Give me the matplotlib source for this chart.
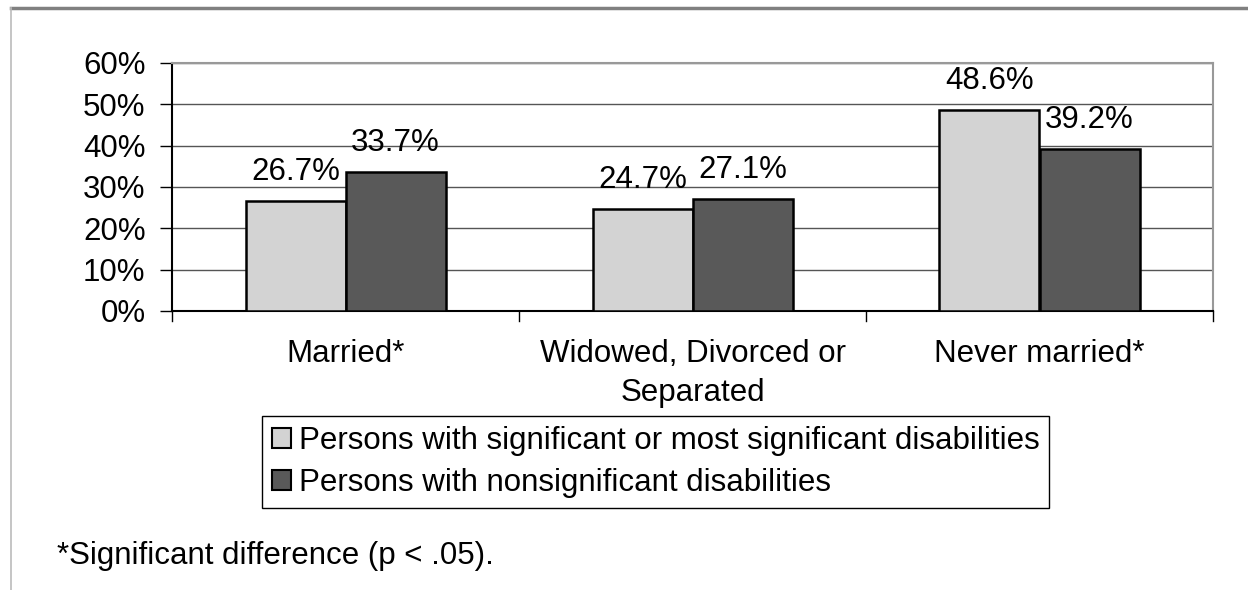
import matplotlib
matplotlib.use("Agg")
import matplotlib.pyplot as plt
from matplotlib.patches import Patch
from matplotlib.lines import Line2D
import numpy as np

categories = ["Married*", "Widowed, Divorced or\nSeparated", "Never married*"]
series_names = ["Persons with significant or most significant disabilities",
                "Persons with nonsignificant disabilities"]
sig_values = [26.7, 24.7, 48.6]
nonsig_values = [33.7, 27.1, 39.2]
yticks = [0, 10, 20, 30, 40, 50, 60]
ytick_labels = ["0%", "10%", "20%", "30%", "40%", "50%", "60%"]
footnote = "*Significant difference (p < .05)."

plt.rcParams['font.family'] = ['Liberation Sans', 'DejaVu Sans']
FS = 22.5

W, H = 1248, 590
fig = plt.figure(figsize=(W/100, H/100), dpi=100)
ax = fig.add_axes([172/W, 1-311/H, (1213-172)/W, (311-63)/H])

x = np.arange(len(categories))
bw = 100/347
light = "#d3d3d3"
dark = "#595959"
b1 = ax.bar(x - bw/2, sig_values, bw, color=light, edgecolor="black", linewidth=1.8, zorder=3)
b2 = ax.bar(x + bw/2, nonsig_values, bw, color=dark, edgecolor="black", linewidth=1.8, zorder=3)

for bars, vals in ((b1, sig_values), (b2, nonsig_values)):
    for r, v in zip(bars, vals):
        ax.annotate(f"{v:.1f}%", (r.get_x() + r.get_width()/2, v), xytext=(0, 15),
                    textcoords="offset points", ha="center", va="baseline", fontsize=FS)

ax.set_xlim(-0.5, len(categories) - 0.5)
ax.set_ylim(0, 60)
ax.set_yticks(yticks)
ax.set_yticklabels(ytick_labels, fontsize=FS)
ax.yaxis.grid(True, color="#555555", linewidth=1.0, zorder=0)
ax.tick_params(axis="y", length=9, width=1, pad=10)

ax.set_xticks(x)
ax.set_xticklabels(categories, fontsize=FS, linespacing=1.4)
ax.tick_params(axis="x", length=0, pad=20)
# boundary tick marks on the category axis
for b in np.arange(-0.5, len(categories), 1.0):
    ax.plot([b, b], [0, -0.04], transform=ax.get_xaxis_transform(), color="black",
            linewidth=1, clip_on=False)

for s in ("top", "right"):
    ax.spines[s].set_color("#999999")
    ax.spines[s].set_linewidth(1.5)
for s in ("left", "bottom"):
    ax.spines[s].set_color("black")
    ax.spines[s].set_linewidth(1.5)

handles = [Patch(facecolor=light, edgecolor="black", linewidth=1.5),
           Patch(facecolor=dark, edgecolor="black", linewidth=1.5)]
leg = fig.legend(handles, series_names, loc="upper left",
                 bbox_to_anchor=(262/W, 1-416/H), fontsize=FS,
                 handlelength=0.6, handleheight=0.6, handletextpad=0.25,
                 labelspacing=0.38, borderpad=0.32, borderaxespad=0,
                 fancybox=False, framealpha=1, edgecolor="black")
leg.get_frame().set_linewidth(1.0)

fig.text(57/W, 1-556/H, footnote, fontsize=FS, ha="left", va="center")

# outer frame lines
fig.add_artist(Line2D([11/W, 1], [1-8/H, 1-8/H], color="#808080", linewidth=2.5))
fig.add_artist(Line2D([11/W, 11/W], [0, 1-8/H], color="#bbbbbb", linewidth=1.2))

fig.savefig("out.png", dpi=100)
